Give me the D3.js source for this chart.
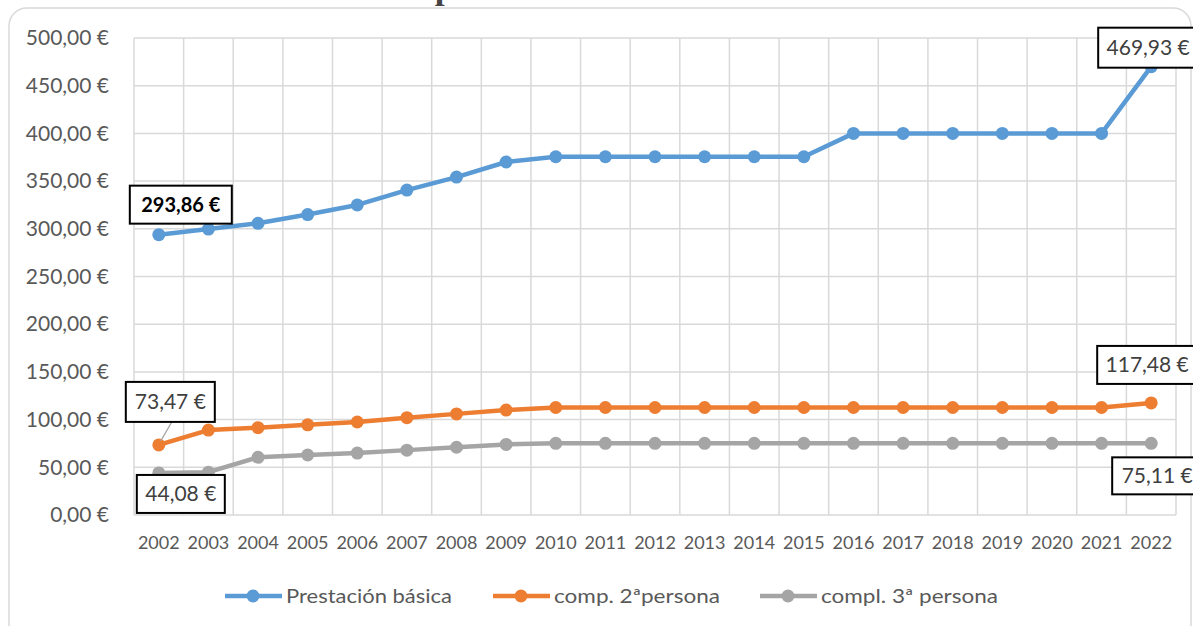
<!DOCTYPE html>
<html>
<head>
<meta charset="utf-8">
<script src="https://cdn.jsdelivr.net/npm/d3@7"></script>
<style>
  html, body { margin: 0; padding: 0; background: #fff; overflow: hidden; }
  svg { display: block; font-family: Lato, "Open Sans", sans-serif; }
</style>
</head>
<body>
<svg id="chart" width="1193" height="626"></svg>
<script>
// years on the x axis
const years = ['2002', '2003', '2004', '2005', '2006', '2007', '2008', '2009', '2010', '2011',
  '2012', '2013', '2014', '2015', '2016', '2017', '2018', '2019', '2020', '2021', '2022'];

const basica = [293.86, 299.74, 305.74, 314.91, 325.00, 340.58, 354.20, 370.00, 375.55, 375.55,
  375.55, 375.55, 375.55, 375.55, 400.00, 400.00, 400.00, 400.00, 400.00, 400.00, 469.93];
const segunda = [73.47, 89.00, 91.50, 94.50, 97.50, 102.00, 106.00, 110.00, 112.67, 112.67,
  112.67, 112.67, 112.67, 112.67, 112.67, 112.67, 112.67, 112.67, 112.67, 112.67, 117.48];
const tercera = [44.08, 44.90, 60.50, 62.90, 64.90, 68.00, 71.00, 74.00, 75.11, 75.11,
  75.11, 75.11, 75.11, 75.11, 75.11, 75.11, 75.11, 75.11, 75.11, 75.11, 75.11];

const yTicks = [0, 50, 100, 150, 200, 250, 300, 350, 400, 450, 500];

const seriesNames = ['Prestación básica', 'comp. 2ªpersona', 'compl. 3ª persona'];
const seriesColors = ['#5b9bd5', '#ed7d31', '#a5a5a5'];
const seriesValues = [basica, segunda, tercera];

const fmt = v => v.toFixed(2).replace('.', ',') + ' €';

const svg = d3.select('#chart');

// title, mostly cut off by the top of the picture (as in the source image)
svg.append('text')
  .attr('x', 18).attr('y', -1)
  .attr('font-family', '"Liberation Serif", "DejaVu Serif", serif')
  .attr('font-weight', 'bold')
  .attr('font-size', 33)
  .attr('fill', '#444')
  .attr('textLength', 1130)
  .attr('lengthAdjust', 'spacingAndGlyphs')
  .text('Gráfico 1. Evolución del importe de la Renta Mínima de Inserción Madrid');

// chart frame
svg.append('rect')
  .attr('x', 9).attr('y', 8)
  .attr('width', 1182).attr('height', 660)
  .attr('rx', 18)
  .attr('fill', '#fff')
  .attr('stroke', '#d9d9d9')
  .attr('stroke-width', 1.5);

const plot = {left: 134, right: 1176, top: 38, bottom: 515};

const x = d3.scaleBand().domain(years).range([plot.left, plot.right]);
const y = d3.scaleLinear().domain([0, 500]).range([plot.bottom, plot.top]);

// grid
const grid = svg.append('g').attr('stroke', '#d9d9d9').attr('stroke-width', 1.5);
grid.selectAll('line.h').data(yTicks).join('line')
  .attr('x1', plot.left).attr('x2', plot.right)
  .attr('y1', d => y(d)).attr('y2', d => y(d));
grid.selectAll('line.v').data(years.concat(['end'])).join('line')
  .attr('x1', (d, i) => plot.left + i * x.bandwidth())
  .attr('x2', (d, i) => plot.left + i * x.bandwidth())
  .attr('y1', plot.top).attr('y2', plot.bottom);

// axes
const yAxis = svg.append('g')
  .attr('transform', `translate(${plot.left - 22},0)`)
  .call(d3.axisLeft(y).tickValues(yTicks).tickSize(0).tickFormat(fmt));
yAxis.select('.domain').remove();
yAxis.selectAll('text').attr('font-size', 21).attr('fill', '#595959')
  .attr('font-family', 'Lato, sans-serif');

const xAxis = svg.append('g')
  .attr('transform', `translate(0,${plot.bottom + 18})`)
  .call(d3.axisBottom(x).tickSize(0));
xAxis.select('.domain').remove();
xAxis.selectAll('text').attr('font-size', 18).attr('fill', '#595959')
  .attr('font-family', 'Lato, sans-serif');

const cx = d => x(d) + x.bandwidth() / 2;

// lines and markers
const line = d3.line().x((d, i) => cx(years[i])).y(d => y(d));
seriesValues.forEach((vals, s) => {
  const g = svg.append('g');
  g.append('path')
    .datum(vals)
    .attr('d', line)
    .attr('fill', 'none')
    .attr('stroke', seriesColors[s])
    .attr('stroke-width', 4.5)
    .attr('stroke-linejoin', 'round');
  g.selectAll('circle').data(vals).join('circle')
    .attr('cx', (d, i) => cx(years[i]))
    .attr('cy', d => y(d))
    .attr('r', 6.5)
    .attr('fill', seriesColors[s]);
});

// data labels (box offsets from the point)
const labels = [
  {s: 0, i: 0, dx: -29, dy: -49, w: 102, h: 38, bold: true},
  {s: 0, i: 20, dx: -53, dy: -39, w: 100, h: 40, bold: false},
  {s: 1, i: 0, dx: -33, dy: -63, w: 89, h: 40, bold: false, leader: true},
  {s: 2, i: 0, dx: -22, dy: 2, w: 88, h: 38, bold: false},
  {s: 1, i: 20, dx: -54, dy: -57, w: 100, h: 38, bold: false},
  {s: 2, i: 20, dx: -39, dy: 14, w: 90, h: 37, bold: false}
];
const lab = svg.append('g');
labels.forEach(l => {
  const px = cx(years[l.i]);
  const py = y(seriesValues[l.s][l.i]);
  const bx = px + l.dx;
  const by = py + l.dy;
  if (l.leader) {
    lab.append('line')
      .attr('x1', px + 2).attr('y1', py - 4)
      .attr('x2', bx + 46).attr('y2', by + l.h)
      .attr('stroke', '#a5a5a5').attr('stroke-width', 1.2);
  }
  lab.append('rect')
    .attr('x', bx).attr('y', by)
    .attr('width', l.w).attr('height', l.h)
    .attr('fill', '#fff')
    .attr('stroke', '#000')
    .attr('stroke-width', 2);
  lab.append('text')
    .attr('x', bx + l.w / 2).attr('y', by + l.h / 2 + 7)
    .attr('text-anchor', 'middle')
    .attr('font-size', l.bold ? 20 : 21)
    .attr('font-weight', l.bold ? 'bold' : 'normal')
    .attr('fill', l.bold ? '#000' : '#404040')
    .text(fmt(seriesValues[l.s][l.i]));
});

// legend
const legendX = [225, 493, 760];
const legendW = [166, 166, 177];
const legend = svg.append('g').attr('transform', 'translate(0,596)');
seriesNames.forEach((name, s) => {
  const g = legend.append('g').attr('transform', `translate(${legendX[s]},0)`);
  g.append('line').attr('x1', 0).attr('x2', 57).attr('y1', 0).attr('y2', 0)
    .attr('stroke', seriesColors[s]).attr('stroke-width', 4.5);
  g.append('circle').attr('cx', 28).attr('cy', 0).attr('r', 6.5).attr('fill', seriesColors[s]);
  g.append('text').attr('x', 61).attr('y', 7)
    .attr('font-size', 19).attr('fill', '#595959')
    .attr('textLength', legendW[s])
    .attr('lengthAdjust', 'spacingAndGlyphs')
    .text(name);
});
</script>
</body>
</html>
